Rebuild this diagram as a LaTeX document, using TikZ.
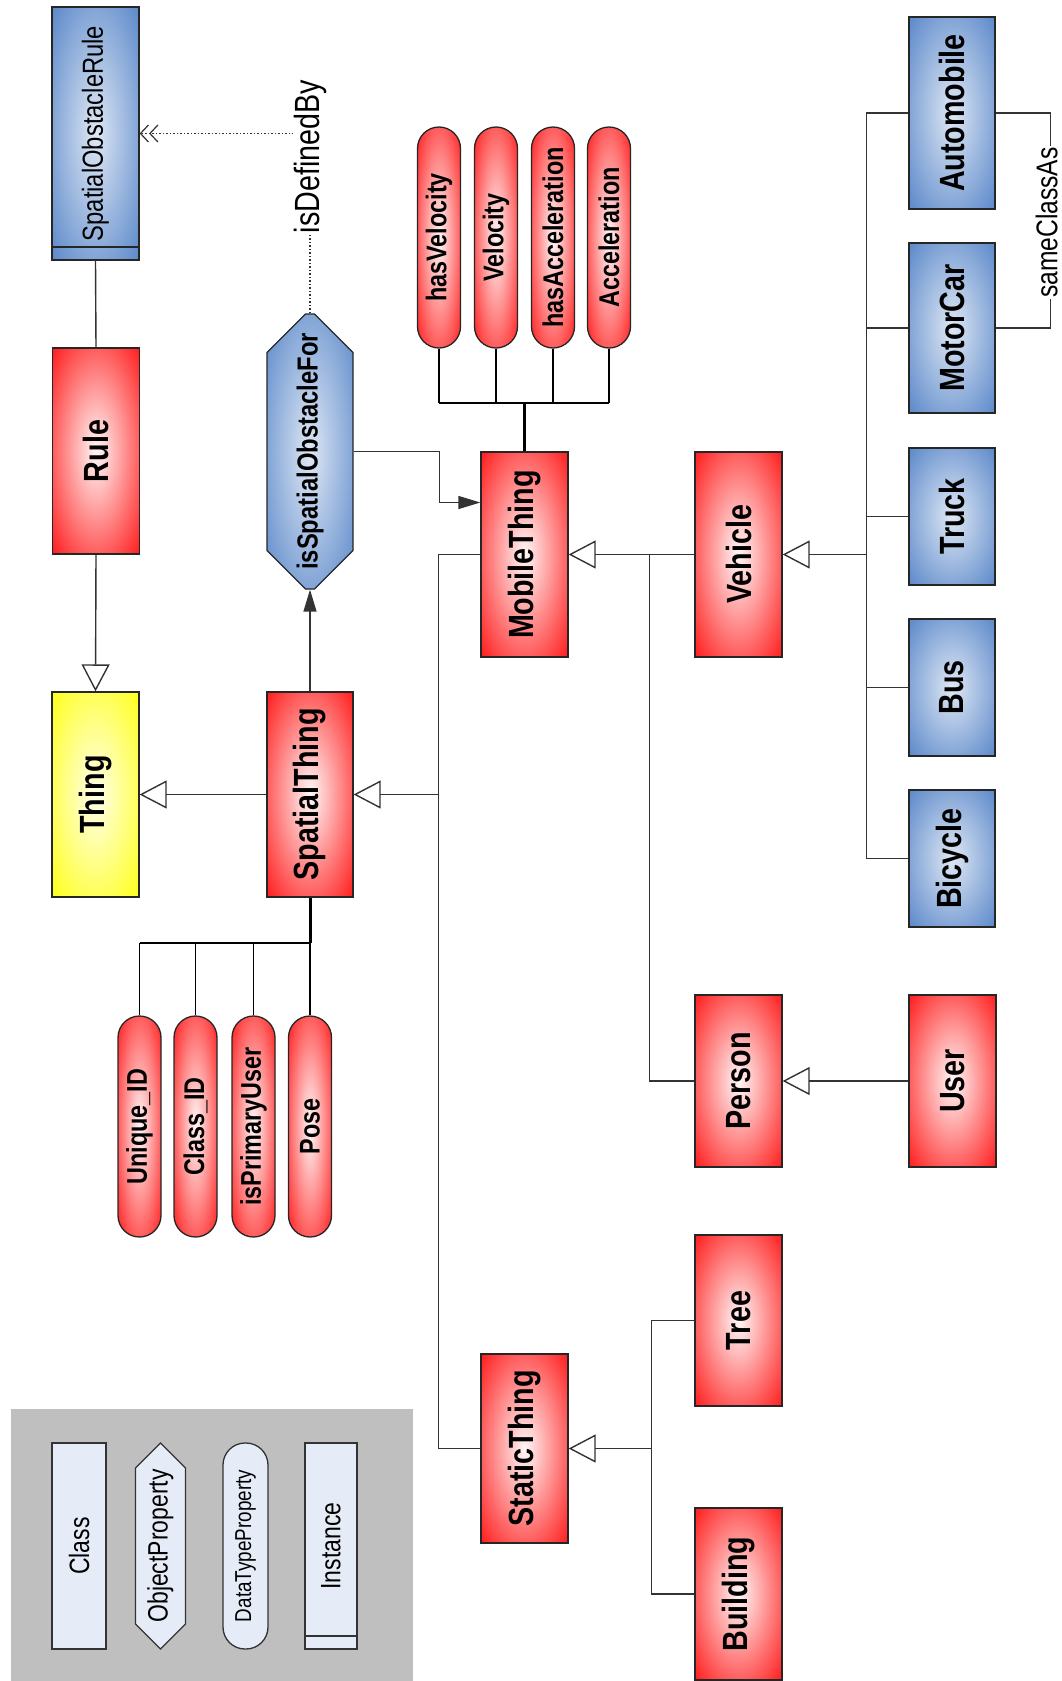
\documentclass[tikz,border=0pt]{standalone}
\usepackage{fontspec}
\newfontfamily\narrowsf{Liberation Sans}[FakeStretch=0.82]
\usetikzlibrary{arrows.meta,shapes.misc,calc}
\definecolor{clsRed}{HTML}{FF0000}
\definecolor{clsBlue}{HTML}{4A7CC4}
\definecolor{clsYellow}{HTML}{FFFF00}
\definecolor{lgdFill}{HTML}{E6ECF7}
\definecolor{lgdGray}{HTML}{BFBFBF}
\definecolor{edgeGray}{HTML}{333333}
\pgfdeclareradialshading[glowin,glowout]{glow}{\pgfpointorigin}{color(0bp)=(glowin); color(40bp)=(glowout); color(72bp)=(glowout)}
\newcommand{\clsfont}{\narrowsf\bfseries\fontsize{35}{40}\selectfont}
\newcommand{\propfont}{\narrowsf\bfseries\fontsize{28.5}{32}\selectfont}
\newcommand{\relfont}{\narrowsf\fontsize{35}{40}\selectfont}
\newcommand{\lgdfont}{\narrowsf\fontsize{28}{32}\selectfont}
\newcommand{\vlabel}[1]{\rotatebox{90}{#1}}

\begin{document}
\begin{tikzpicture}[x=1pt,y=-1pt,
    box/.style={draw=black!85,line width=1.3pt,inner sep=0pt,minimum width=87pt,shading=glow},
    redbox/.style={box,font=\clsfont,/utils/exec={\colorlet{glowin}{red!3}\colorlet{glowout}{clsRed}}},
    bluebox/.style={box,font=\clsfont,/utils/exec={\colorlet{glowin}{clsBlue!18}\colorlet{glowout}{clsBlue}}},
    yellowbox/.style={box,font=\clsfont,/utils/exec={\colorlet{glowin}{clsYellow!8}\colorlet{glowout}{clsYellow}}},
    pill/.style={redbox,font=\propfont,rounded corners=21.5pt,minimum width=43pt,minimum height=221pt},
    hexbox/.style={chamfered rectangle,chamfered rectangle xsep=25pt,chamfered rectangle ysep=79pt},
    band/.style={path picture={\draw[line width=2pt] ([yshift=13pt]path picture bounding box.south west) -- ([yshift=13pt]path picture bounding box.south east);}},
    lgdbox/.style={draw=black!80,line width=1.3pt,fill=lgdFill,inner sep=0pt,minimum height=206pt,font=\lgdfont},
    link/.style={draw=edgeGray,line width=1.4pt},
    stem/.style={draw=black,line width=3pt},
    gen/.style={link,-{Triangle[open,length=27pt,width=28pt]}},
    fwd/.style={link,-{Triangle[length=22pt,width=13pt]}},
    defby/.style={link,line width=1.2pt,dash pattern=on 1.5pt off 2pt,-{Straight Barb[length=8pt,width=17pt]Straight Barb[length=8pt,width=17pt]}},
    rel/.style={fill=white,inner sep=1pt,font=\relfont}]
  \useasboundingbox (0,0) rectangle (1062,1681);

  % left column
  \node[bluebox,band,minimum height=253pt,font=\narrowsf\fontsize{29}{32}\selectfont] (sor) at (95.5,133.5) {\vlabel{SpatialObstacleRule}};
  \node[redbox,minimum height=206pt] (rule) at (96,451) {\vlabel{Rule}};
  \node[yellowbox,minimum height=205pt] (thing) at (95.5,794.5) {\vlabel{Thing}};

  % spatial thing and its properties
  \node[bluebox,hexbox,minimum width=86pt,minimum height=275pt,font=\narrowsf\bfseries\fontsize{29}{32}\selectfont] (iso) at (310,451.5) {\vlabel{isSpatialObstacleFor}};
  \node[redbox,minimum width=86pt,minimum height=205pt] (spt) at (310,794.5) {\vlabel{SpatialThing}};
  \node[pill] (uid) at (139.5,1126.5) {\vlabel{Unique\_ID}};
  \node[pill] (cid) at (195.5,1126.5) {\vlabel{Class\_ID}};
  \node[pill] (ipu) at (253.5,1126.5) {\vlabel{isPrimaryUser}};
  \node[pill] (pose) at (310,1126.5) {\vlabel{Pose}};

  % mobile and static things
  \node[redbox,minimum height=205pt] (mob) at (524.5,554.5) {\vlabel{MobileThing}};
  \node[pill] (hvel) at (439,237.5) {\vlabel{hasVelocity}};
  \node[pill] (vel) at (496,237.5) {\vlabel{Velocity}};
  \node[pill] (hacc) at (553,237.5) {\vlabel{hasAcceleration}};
  \node[pill] (acc) at (609,237.5) {\vlabel{Acceleration}};
  \node[redbox,minimum height=189pt] (stat) at (524.5,1448.5) {\vlabel{StaticThing}};

  \node[redbox,minimum height=205pt] (veh) at (738.5,554.5) {\vlabel{Vehicle}};
  \node[redbox,minimum height=172pt] (person) at (738.5,1081) {\vlabel{Person}};
  \node[redbox,minimum height=171pt] (tree) at (738.5,1320.5) {\vlabel{Tree}};
  \node[redbox,minimum height=172pt] (bldg) at (738.5,1594) {\vlabel{Building}};
  \node[redbox,minimum height=172pt] (user) at (952.5,1081) {\vlabel{User}};

  % vehicle kinds
  \node[bluebox,minimum width=86pt,minimum height=192pt] (auto) at (952,113) {\vlabel{Automobile}};
  \node[bluebox,minimum width=86pt,minimum height=170pt] (mcar) at (952,328) {\vlabel{MotorCar}};
  \node[bluebox,minimum width=86pt,minimum height=137pt] (truck) at (952,516.5) {\vlabel{Truck}};
  \node[bluebox,minimum width=86pt,minimum height=137pt] (bus) at (952,687.5) {\vlabel{Bus}};
  \node[bluebox,minimum width=86pt,minimum height=137pt] (bike) at (952,858.5) {\vlabel{Bicycle}};

  % junctions
  \coordinate (topbus) at (524.5,403);
  \coordinate (botbus) at (310,943);
  \coordinate (spjoin) at (439,794.5);
  \coordinate (vjoin) at (867,554.5);
  \coordinate (stjoin) at (652,1448.5);

  % connectors
  \draw[link] (sor.south) -- (rule.north);
  \draw[gen] (rule.south) -- (thing.north);
  \draw[gen] (spt.west) -- (thing.east);
  \draw[fwd] (spt.north) -- (iso.south);
  \draw[defby] (iso.north) |- (sor.east) node[rel,pos=0.436] {\vlabel{isDefinedBy}};
  \draw[fwd] (iso.east) -- ++(86,0) |- ([yshift=52pt]mob.west);
  \draw[link] (mob.west) -- ++(-42,0) |- (stat.west);
  \draw[gen] (spjoin) -- (spt.east);

  \draw[stem] (mob.north) -- (topbus);
  \draw[link,draw=black] (hvel.south |- topbus) -- (acc.south |- topbus);
  \foreach \p in {hvel,vel,hacc,acc}
    \draw[link,draw=black] (\p.south) -- (\p.south |- topbus);
  \draw[stem] (spt.south) -- (botbus);
  \draw[link,draw=black] (uid.north |- botbus) -- (botbus);
  \foreach \p in {uid,cid,ipu,pose}
    \draw[link,draw=black] (\p.north) -- (\p.north |- botbus);

  \draw[gen] (veh.west) -- (mob.east);
  \draw[link] ([xshift=-45pt]veh.west) |- (person.west);
  \draw[gen] (user.west) -- (person.east);
  \draw[link] (auto.west) -- ++(-42,0) |- (bike.west);
  \foreach \n in {mcar,truck,bus}
    \draw[link] (\n.west) -- ++(-42,0);
  \draw[gen] (vjoin) -- (veh.east);
  \draw[link] (auto.east) -| ([xshift=55pt]mcar.east) node[rel,pos=0.755,xshift=-4pt,font=\narrowsf\fontsize{30}{34}\selectfont] {\vlabel{sameClassAs}} -- (mcar.east);
  \draw[link] (tree.west) -- ++(-43,0) |- (bldg.west);
  \draw[gen] (stjoin) -- (stat.east);

  % legend
  \fill[lgdGray] (11,1409) rectangle (413,1681);
  \node[lgdbox,minimum width=54pt] (lcls) at (79,1546) {\vlabel{Class}};
  \node[lgdbox,hexbox,chamfered rectangle xsep=12pt,chamfered rectangle ysep=48pt,minimum width=45pt] (lobj) at (160.5,1546) {\vlabel{ObjectProperty}};
  \node[lgdbox,rounded corners=22pt,minimum width=45pt,font=\narrowsf\fontsize{23}{26}\selectfont] (ldat) at (245.5,1546) {\vlabel{DataTypeProperty}};
  \node[lgdbox,band,minimum width=52pt] (linst) at (331,1546) {\vlabel{Instance}};
\end{tikzpicture}
\end{document}
